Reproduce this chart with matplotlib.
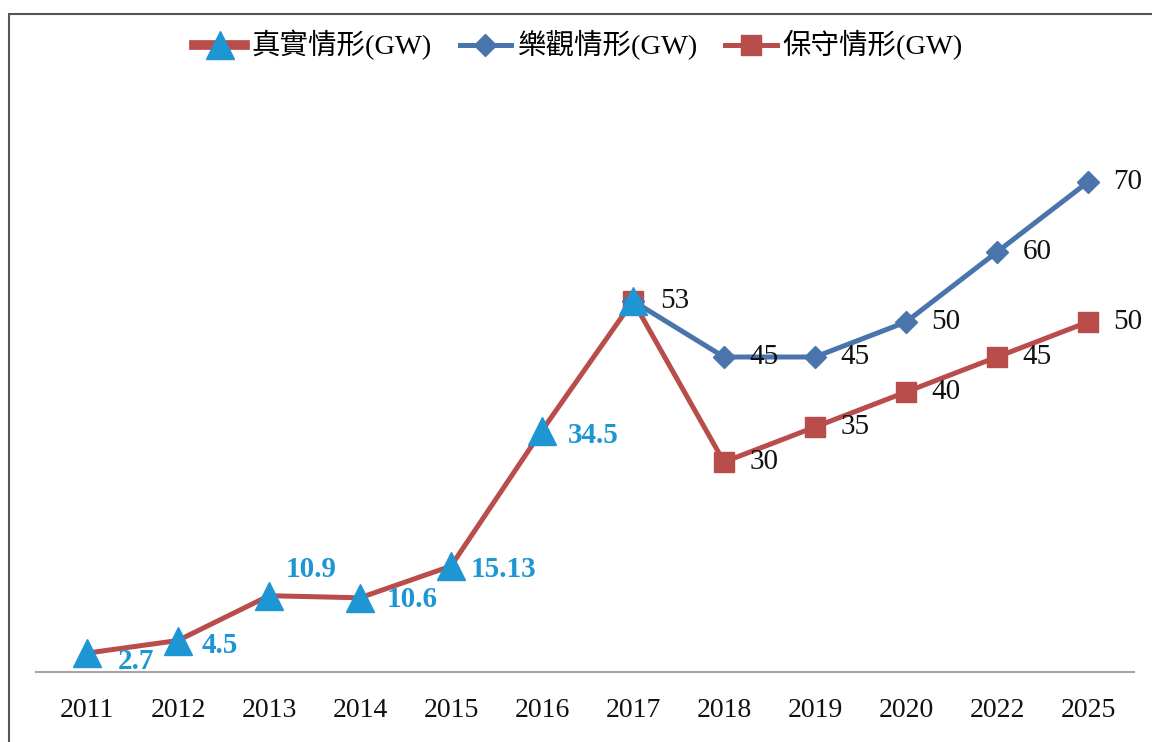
import matplotlib
matplotlib.use("Agg")
import matplotlib.pyplot as plt
from matplotlib.lines import Line2D
from matplotlib.patches import Rectangle

plt.rcParams['font.family'] = ['Liberation Serif', 'Noto Sans CJK TC', 'DejaVu Sans']

# datos
years = ['2011', '2012', '2013', '2014', '2015', '2016', '2017',
         '2018', '2019', '2020', '2022', '2025']
real_vals = [2.7, 4.5, 10.9, 10.6, 15.13, 34.5, 53]
real_labels = ['2.7', '4.5', '10.9', '10.6', '15.13', '34.5', '53']
opt_vals = [53, 45, 45, 50, 60, 70]
cons_vals = [53, 30, 35, 40, 45, 50]
names = ['真實情形(GW)', '樂觀情形(GW)', '保守情形(GW)']

RED = '#B94D4B'
BLUE = '#4A74AC'
TRI = '#1F96D4'

fig = plt.figure(figsize=(11.52, 7.42), dpi=100)
ax = fig.add_axes([36 / 1152, 70 / 742, (1133.5 - 36) / 1152, 560 / 742])

x_real = list(range(len(real_vals)))
x_fut = list(range(6, 6 + len(opt_vals)))

ax.plot(x_fut, cons_vals, color=RED, lw=3.6, marker='s', ms=14,
        mfc=RED, mec=RED, zorder=2)
ax.plot(x_fut, opt_vals, color=BLUE, lw=3.6, marker='D', ms=11.5,
        mfc=BLUE, mec=BLUE, zorder=2)
ax.plot(x_real, real_vals, color=RED, lw=3.6, zorder=3)
ax.plot(x_real, real_vals, ls='none', marker='^', ms=20, mfc=TRI, mec=TRI, zorder=4)

# etiquetas (offset en pixeles)
real_off = [(49, -8), (42, -5), (42, 26), (52, -2), (52, -3), (51, -5), (42, 0)]
for i, (v, t) in enumerate(zip(real_vals, real_labels)):
    if i == 6:
        ax.annotate(t, (i, v), xytext=real_off[i], textcoords='offset pixels',
                    ha='center', va='center', fontsize=21, color='#111111')
    else:
        ax.annotate(t, (i, v), xytext=real_off[i], textcoords='offset pixels',
                    ha='center', va='center', fontsize=21, color=TRI,
                    fontweight='bold')
for xi, v in zip(x_fut[1:], opt_vals[1:]):
    ax.annotate(str(v), (xi, v), xytext=(40, 0), textcoords='offset pixels',
                ha='center', va='center', fontsize=21, color='#111111')
for xi, v in zip(x_fut[1:], cons_vals[1:]):
    ax.annotate(str(v), (xi, v), xytext=(40, 0), textcoords='offset pixels',
                ha='center', va='center', fontsize=21, color='#111111')

ax.set_xlim(-0.5 - 5.5 / 91, len(years) - 0.5)
ax.set_ylim(0, 80)
ax.set_xticks(range(len(years)))
ax.set_xticklabels(years, fontsize=20, color='#111111')
ax.tick_params(axis='x', length=0, pad=19)
ax.set_yticks([])
for s in ['top', 'right', 'left']:
    ax.spines[s].set_visible(False)
ax.spines['bottom'].set_color('#A6A6A6')
ax.spines['bottom'].set_linewidth(1.5)
ax.patch.set_visible(False)

handles = [
    Line2D([], [], color=RED, lw=7, marker='^', ms=20, mfc=TRI, mec=TRI),
    Line2D([], [], color=BLUE, lw=3.6, marker='D', ms=11, mfc=BLUE, mec=BLUE),
    Line2D([], [], color=RED, lw=3.6, marker='s', ms=14, mfc=RED, mec=RED),
]
fig.legend(handles, names, loc='center', bbox_to_anchor=(0.502, 0.939), ncol=3,
           frameon=False, fontsize=20.5, handlelength=1.8, handletextpad=0.2,
           columnspacing=1.0)

fig.patches.append(Rectangle((9 / 1152, -0.05), 1.1, 1 - 14 / 742 + 0.05,
                             transform=fig.transFigure, fill=False,
                             ec='#555555', lw=1.5))

fig.savefig('out.png', dpi=100)
